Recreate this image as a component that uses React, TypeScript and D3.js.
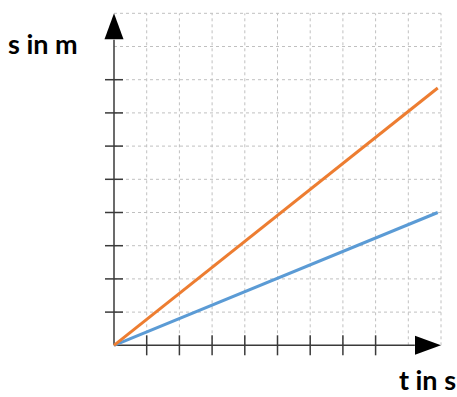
import React, { useEffect, useRef } from 'react';
import * as d3 from 'd3';

// distance-time data (t in s, s in m)
const timeValues = [0, 9.9];
const fastSeries = [0, 7.75];
const slowSeries = [0, 4];
const gridSteps = d3.range(0, 11);
const xTickValues = d3.range(1, 9);
const yTickValues = d3.range(1, 9);
const xLabel = 't in s';
const yLabel = 's in m';

const App = () => {
  const ref = useRef<SVGSVGElement>(null);

  useEffect(() => {
    const svg = d3.select(ref.current);
    svg.selectAll('*').remove();

    const x = d3.scaleLinear().domain([0, 10]).range([114, 441]);
    const y = d3.scaleLinear().domain([0, 10]).range([345.3, 13.3]);

    // dashed grid
    const grid = svg.append('g').attr('stroke', '#c0c0c0').attr('stroke-width', 1).attr('stroke-dasharray', '3,3');
    grid.selectAll('.v').data(gridSteps.slice(1)).enter().append('line')
      .attr('x1', (d) => x(d)).attr('x2', (d) => x(d))
      .attr('y1', y(0)).attr('y2', y(10));
    grid.selectAll('.h').data(gridSteps.slice(1)).enter().append('line')
      .attr('x1', x(0)).attr('x2', x(10))
      .attr('y1', (d) => y(d)).attr('y2', (d) => y(d));

    // axes
    const axisColor = '#3a3a3a';
    svg.append('line').attr('x1', x(0)).attr('x2', x(9.2)).attr('y1', y(0)).attr('y2', y(0))
      .attr('stroke', axisColor).attr('stroke-width', 1.5);
    svg.append('line').attr('x1', x(0)).attr('x2', x(0)).attr('y1', y(0)).attr('y2', y(9.2))
      .attr('stroke', axisColor).attr('stroke-width', 1.5);

    svg.selectAll('.xt').data(xTickValues).enter().append('line')
      .attr('x1', (d) => x(d)).attr('x2', (d) => x(d))
      .attr('y1', y(0) - 10).attr('y2', y(0) + 10)
      .attr('stroke', axisColor).attr('stroke-width', 1.5);
    svg.selectAll('.yt').data(yTickValues).enter().append('line')
      .attr('x1', x(0) - 9).attr('x2', x(0) + 9)
      .attr('y1', (d) => y(d)).attr('y2', (d) => y(d))
      .attr('stroke', axisColor).attr('stroke-width', 1.5);

    // arrow heads
    const tipX = x(10), baseX = tipX - 26, ay = y(0);
    svg.append('path').attr('d', `M${baseX},${ay - 9.5}L${tipX},${ay}L${baseX},${ay + 9.5}Z`).attr('fill', '#000');
    const tipY = y(10), baseY = tipY + 26, ax = x(0);
    svg.append('path').attr('d', `M${ax - 9.5},${baseY}L${ax},${tipY}L${ax + 9.5},${baseY}Z`).attr('fill', '#000');

    // lines
    const line = d3.line<number>().x((d, i) => x(timeValues[i])).y((d) => y(d));
    svg.append('path').attr('d', line(slowSeries)).attr('fill', 'none')
      .attr('stroke', '#5B9BD5').attr('stroke-width', 3);
    svg.append('path').attr('d', line(fastSeries)).attr('fill', 'none')
      .attr('stroke', '#ED7D31').attr('stroke-width', 3);

    // labels
    svg.append('text').text(yLabel).attr('x', 8).attr('y', 54)
      .attr('font-family', 'Lato').attr('font-weight', 'bold').attr('font-size', 27).attr('fill', '#000');
    svg.append('text').text(xLabel).attr('x', 456).attr('y', 390).attr('text-anchor', 'end')
      .attr('font-family', 'Lato').attr('font-weight', 'bold').attr('font-size', 27).attr('fill', '#000');
  }, []);

  return (
    <svg ref={ref} width={457} height={397} style={{ position: 'absolute', left: 0, top: 0 }} />
  );
};

export default App;
